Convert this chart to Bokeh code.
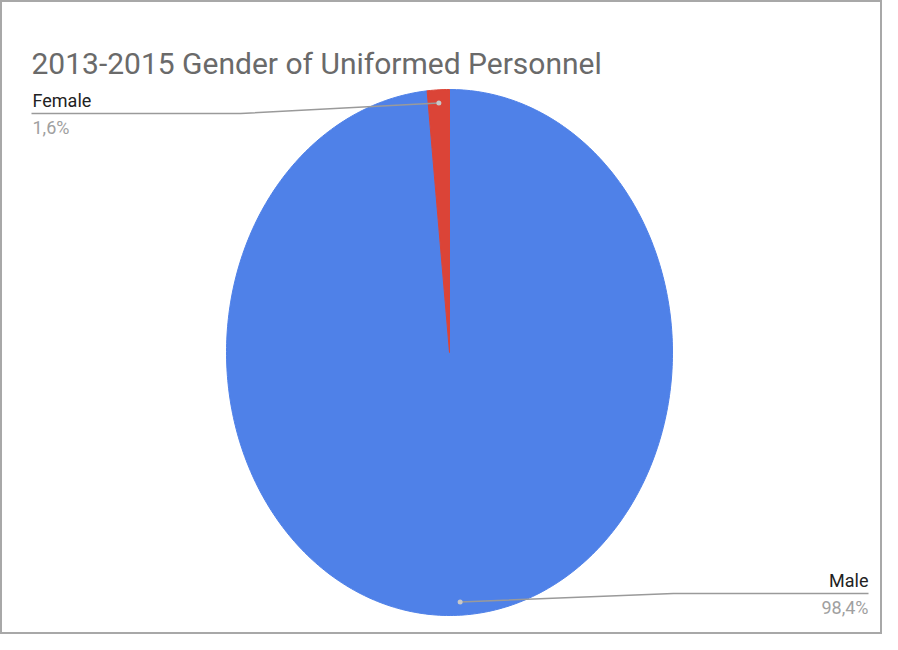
import numpy as np
from bokeh.plotting import figure
from bokeh.models import Range1d
from bokeh.core.properties import value
from bokeh.embed import file_html
from bokeh.resources import INLINE

# ---- data ----
title_text = "2013-2015 Gender of Uniformed Personnel"
labels = ["Male", "Female"]
values = [98.4, 1.6]
pct_labels = ["98,4%", "1,6%"]
colors = ["#4f81e8", "#db4437"]

# ---- geometry (in reference pixel coordinates) ----
W, H = 882, 634
cx, cy, rx, ry = 449, 352, 223, 263

p = figure(width=W, height=H, output_backend="svg", toolbar_location=None,
           x_range=Range1d(0, W), y_range=Range1d(H, 0),
           min_border=0)
p.axis.visible = False
p.grid.visible = False
p.outline_line_color = "#a8a8a8"
p.outline_line_width = 3
p.background_fill_color = "white"
p.border_fill_color = "white"

total = sum(values)
start = np.pi / 2
xs, ys, mids = [], [], []
for v in values:
    sweep = 2 * np.pi * v / total
    t = np.linspace(start, start - sweep, max(8, int(400 * v / total)))
    px = np.concatenate([[cx], cx + rx * np.cos(t), [cx]])
    py = np.concatenate([[cy], cy - ry * np.sin(t), [cy]])
    xs.append(px.tolist())
    ys.append(py.tolist())
    mids.append(start - sweep / 2)
    start -= sweep

p.patches(xs, ys, fill_color=colors, line_color=colors, line_width=1)

# leader dots
f = 0.95
dot_x = [cx + rx * f * np.cos(m) for m in mids]
dot_y = [cy - ry * f * np.sin(m) for m in mids]

# leader lines: Male to right, Female to left
male_line_x = [dot_x[0], 673, 868]
male_line_y = [dot_y[0], 593, 593]
fem_line_x = [dot_x[1], 240, 31]
fem_line_y = [dot_y[1], 113, 113]
p.line(male_line_x, male_line_y, line_color="#9a9a9a", line_width=1.5)
p.line(fem_line_x, fem_line_y, line_color="#9a9a9a", line_width=1.5)
p.scatter(dot_x, dot_y, size=5, fill_color="#c8c8c8", line_color=None)

# labels
p.text([868], [590], text=[labels[0]], text_align="right", text_baseline="bottom",
       text_font=value("Roboto"), text_font_size="18px", text_color="#222222")
p.text([868], [596], text=[pct_labels[0]], text_align="right", text_baseline="top",
       text_font=value("Roboto"), text_font_size="18px", text_color="#a0a0a0")
p.text([32], [110], text=[labels[1]], text_align="left", text_baseline="bottom",
       text_font=value("Roboto"), text_font_size="18px", text_color="#222222")
p.text([32], [116], text=[pct_labels[1]], text_align="left", text_baseline="top",
       text_font=value("Roboto"), text_font_size="18px", text_color="#a0a0a0")

# title
p.text([31], [63], text=[title_text], text_align="left", text_baseline="alphabetic",
       text_font=value("Roboto"), text_font_size="30px", text_color="#6a6a6a")

open("out.html", "w").write(file_html(p, INLINE))
